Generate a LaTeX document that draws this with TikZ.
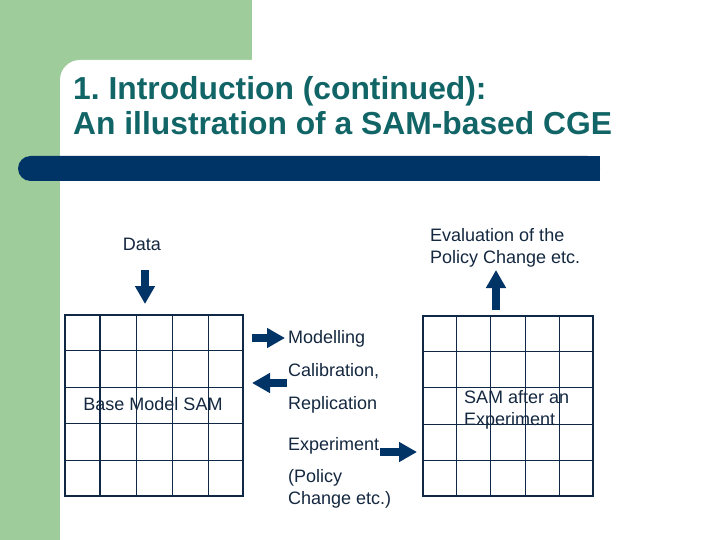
\documentclass[tikz,border=0pt]{standalone}
\usepackage{fontspec}
\setmainfont{Liberation Sans}
\frenchspacing
\usetikzlibrary{arrows.meta,calc}
\definecolor{slidegreen}{RGB}{158,204,155}
\definecolor{barnavy}{RGB}{0,51,102}
\definecolor{titleteal}{RGB}{18,101,103}
\definecolor{textnavy}{RGB}{20,40,64}
\definecolor{gridnavy}{RGB}{15,40,70}
\tikzset{
  bodytext/.style={font=\fontsize{18}{22}\selectfont, text=textnavy, inner sep=0pt, align=left},
  samgrid/.style={draw=gridnavy, line width=2.2pt, inner sep=0pt, anchor=north west},
  cellline/.style={draw=gridnavy, line width=1.1pt},
  blockarrow/.style={draw=barnavy, line width=8pt, -{Triangle[width=19pt,length=18pt]}},
}
\begin{document}
\begin{tikzpicture}[x=1pt,y=-1pt]
  \useasboundingbox (0,0) rectangle (720,540);
  % slide background
  \fill[white] (0,0) rectangle (720,540);
  \fill[slidegreen] (0,0) rectangle (252,80);
  \fill[slidegreen] (0,0) rectangle (60,540);
  \fill[white, rounded corners=20pt] (60,60) rectangle (720,540);
  \fill[barnavy, rounded corners=12.5pt] (18,156) rectangle (600,181);
  \fill[barnavy] (300,156) rectangle (600,181);
  % title (base anchor = last line)
  \node[anchor=base west, inner sep=0pt, align=left, text=titleteal,
        font=\fontsize{31.8}{35}\selectfont\bfseries] (title) at (73,135)
    {1. Introduction (continued):\\An illustration of a SAM-based CGE};
  % the two SAMs
  \node[samgrid, minimum width=178pt, minimum height=181pt] (base) at (64,314) {};
  \node[samgrid, minimum width=170pt, minimum height=180pt] (after) at (422,315) {};
  \foreach \i in {1,...,4} {
    \draw[cellline] ($(base.north west)!\i/5!(base.north east)$) -- ($(base.south west)!\i/5!(base.south east)$);
    \draw[cellline] ($(base.north west)!\i/5!(base.south west)$) -- ($(base.north east)!\i/5!(base.south east)$);
    \draw[cellline] ($(after.north west)!\i/5!(after.north east)$) -- ($(after.south west)!\i/5!(after.south east)$);
    \draw[cellline] ($(after.north west)!\i/5!(after.south west)$) -- ($(after.north east)!\i/5!(after.south east)$);
  }
  \node[bodytext, anchor=base] (basename) at (153,410) {Base Model SAM};
  \node[bodytext, anchor=base west] (aftername) at (464,425) {SAM after an\\Experiment};
  % texts
  \node[bodytext, anchor=base] (data) at (142,251) {Data};
  \node[bodytext, anchor=base west] (evaluation) at (430,263) {Evaluation of the\\Policy Change etc.};
  \node[bodytext, anchor=base west] (modelling) at (288,343) {Modelling};
  \node[bodytext, anchor=base west] (calibration) at (288,376) {Calibration,};
  \node[bodytext, anchor=base west] (replication) at (288,409) {Replication};
  \node[bodytext, anchor=base west] (experiment) at (288,450) {Experiment};
  \node[bodytext, anchor=base west] (policy) at (288,504) {(Policy\\Change etc.)};
  % arrows
  \coordinate (datatail) at (145,270);
  \coordinate (datatip) at (145,304);
  \coordinate (evaltail) at (496,310);
  \coordinate (evaltip) at (496,270);
  \coordinate (modeltail) at (252,338);
  \coordinate (modeltip) at (285,338);
  \coordinate (calibtail) at (287,383);
  \coordinate (calibtip) at (252,383);
  \coordinate (exptail) at (380,452);
  \coordinate (exptip) at (417,452);
  \begin{scope}[blockarrow]
    \draw (datatail) -- (datatip);
    \draw (evaltail) -- (evaltip);
    \draw (modeltail) -- (modeltip);
    \draw (calibtail) -- (calibtip);
    \draw (exptail) -- (exptip);
  \end{scope}
\end{tikzpicture}
\end{document}
